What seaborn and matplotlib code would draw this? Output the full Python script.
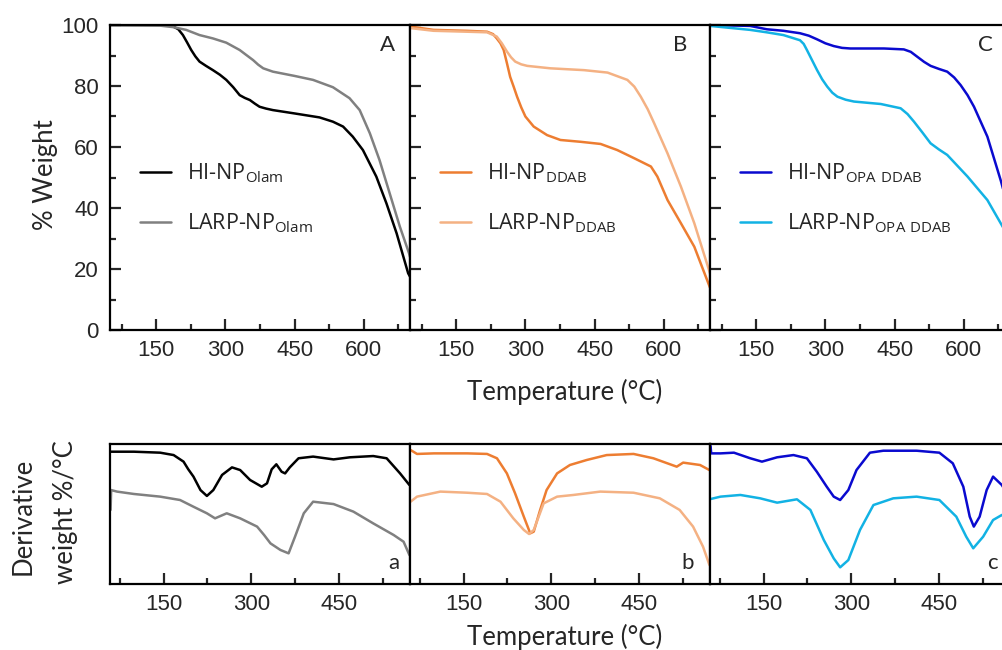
import numpy as np
import pandas as pd
import matplotlib
matplotlib.use("Agg")
import matplotlib.pyplot as plt
from matplotlib.ticker import MultipleLocator, NullLocator
import seaborn as sns

# ---------------- TGA (% weight) data ----------------
# panel A : Olam
tA_hi = [50, 172, 187, 198, 208, 217, 226, 235, 244, 258, 273, 288, 302, 317, 331, 342, 353, 364, 374, 388, 403, 450, 504, 533, 555, 576, 598, 627, 649, 671, 696, 700]
wA_hi = [100, 100, 99.5, 98.6, 96.7, 94.3, 91.8, 89.7, 88, 86.6, 85.2, 83.7, 82, 79.6, 77, 76.1, 75.4, 74.2, 73.2, 72.6, 72.1, 71, 69.7, 68.3, 66.7, 63.4, 59, 50.3, 41.5, 31.7, 18.6, 17.5]
tA_larp = [50, 158, 187, 215, 244, 273, 302, 331, 345, 360, 371, 382, 403, 450, 490, 533, 569, 591, 613, 634, 656, 678, 698, 700]
wA_larp = [100, 99.8, 99.3, 98.4, 96.7, 95.6, 94.2, 91.8, 90.2, 88.5, 87, 85.8, 84.7, 83.3, 82, 79.6, 76, 72.1, 64.5, 55.7, 44.8, 33.9, 25.1, 24]

# panel B : DDAB
tB_hi = [50, 101, 173, 217, 230, 238, 246, 253, 260, 267, 275, 282, 291, 300, 318, 347, 376, 420, 463, 499, 536, 572, 586, 608, 637, 666, 700]
wB_hi = [99.5, 98.4, 98.1, 97.8, 97, 95.6, 94, 91.8, 87.5, 83, 79.6, 76.5, 73, 70, 66.7, 63.9, 62.3, 61.7, 61, 59, 56.3, 53.6, 50.3, 42.6, 35, 27.3, 13.9]
tB_larp = [50, 101, 173, 217, 238, 249, 260, 269, 278, 291, 304, 354, 427, 478, 521, 536, 550, 565, 579, 608, 637, 666, 700]
wB_larp = [99, 98.1, 97.8, 97.6, 96.2, 94, 91.3, 89.4, 88, 87.1, 86.6, 85.8, 85.2, 84.4, 82, 79.8, 76.5, 72.4, 67.8, 57.9, 47, 35, 18.6]

# panel C : OPA DDAB
tC_hi = [50, 137, 173, 209, 245, 264, 282, 300, 318, 336, 354, 427, 470, 485, 499, 514, 528, 546, 564, 579, 593, 608, 622, 651, 680, 700]
wC_hi = [100, 99.7, 98.6, 98.1, 97.3, 96.5, 95.3, 94, 93.1, 92.5, 92.3, 92.3, 92, 91.2, 89.6, 87.9, 86.6, 85.6, 84.7, 82.8, 80.3, 77, 73.2, 63.4, 49, 38]
tC_larp = [50, 137, 173, 209, 245, 253, 260, 271, 282, 293, 304, 315, 326, 344, 362, 420, 463, 478, 492, 510, 528, 546, 564, 608, 651, 684, 700]
wC_larp = [99.7, 98.4, 97.6, 96.7, 95, 93.8, 91.8, 88.5, 85.2, 82.2, 79.8, 77.8, 76.5, 75.5, 74.9, 74.1, 72.7, 70.8, 68.3, 64.8, 61.2, 59.2, 57.4, 50.3, 42.6, 33.9, 30]

# ---------------- DTG (derivative weight, arbitrary units) ----------------
ta_hi = [59, 99, 144, 167, 184, 192, 201, 213, 224, 235, 250, 267, 281, 298, 318, 327, 335, 343, 352, 358, 366, 381, 406, 441, 469, 509, 532, 555, 571]
da_hi = [94.5, 94.5, 93.8, 92.1, 87.4, 82, 76.7, 67.1, 62.9, 67.1, 77.9, 83.3, 81.4, 74.3, 69.5, 71.9, 81.9, 85.5, 80.2, 79, 83.3, 89.8, 91, 89, 90.5, 91.4, 89.8, 79, 70.7]
ta_larp = [59, 60, 70, 99, 144, 178, 201, 224, 238, 258, 281, 310, 322, 333, 350, 364, 375, 390, 406, 441, 475, 509, 544, 561, 571]
da_larp = [52.9, 67.1, 66, 64.3, 62.4, 60, 55.2, 50.5, 46.9, 50.5, 46.9, 41, 35, 29, 24.3, 21.9, 33.8, 50.5, 58.8, 57.1, 51.7, 43.3, 35, 30.2, 20.7]

tb_hi = [59, 70, 99, 156, 190, 207, 224, 238, 253, 264, 270, 281, 292, 310, 332, 361, 395, 441, 475, 515, 526, 555, 571]
db_hi = [95.7, 92.9, 93.3, 93.3, 92.9, 89.8, 79, 64.8, 48.1, 36.2, 37.4, 52.9, 67.1, 79, 85, 88.6, 92.1, 92.9, 89.8, 83.8, 86.7, 85, 81.4]
tb_larp = [59, 70, 110, 156, 190, 213, 235, 253, 262, 270, 287, 310, 338, 384, 441, 486, 520, 543, 560, 571]
db_larp = [58.8, 62.4, 66, 65.2, 64.3, 58.8, 46.9, 38.6, 35.7, 38.6, 57.6, 62.4, 63.6, 66, 65.2, 61.2, 52.9, 41, 26.7, 13.6]

tc_hi = [59, 60, 76, 99, 127, 147, 173, 201, 224, 241, 258, 270, 281, 295, 309, 332, 355, 412, 451, 474, 492, 503, 510, 520, 532, 543, 558, 571]
dc_hi = [98.6, 93.3, 93.3, 93.8, 89.8, 87.4, 90.5, 92.1, 89.8, 80.2, 69.5, 62.4, 60, 67.1, 81.4, 93.8, 95.2, 95.2, 93.8, 86.2, 69.5, 48.1, 41, 48.1, 67.1, 76.7, 70.7, 62]
tc_larp = [59, 76, 110, 144, 173, 207, 230, 253, 270, 281, 295, 315, 338, 372, 412, 451, 480, 497, 509, 526, 543, 558, 571]
dc_larp = [60.7, 62.4, 63.6, 61.2, 58.1, 60.5, 52.9, 31.4, 18.3, 11.9, 17.1, 38.6, 56.4, 61.2, 62.4, 60, 48.1, 33.8, 25.5, 33.8, 45.7, 49.3, 47]

hi_names = ["Olam", "DDAB", "OPA\\ DDAB"]
letters_top = ["A", "B", "C"]
letters_bot = ["a", "b", "c"]
hi_colors = ["#000000", "#ED7D31", "#0A0ACF"]
larp_colors = ["#808080", "#F4B183", "#12B2E4"]

sns.set_style("ticks")
plt.rcParams["font.family"] = ["Liberation Sans", "DejaVu Sans"]
plt.rcParams["mathtext.fontset"] = "custom"
plt.rcParams["mathtext.rm"] = "Open Sans"
plt.rcParams["axes.linewidth"] = 1.6
plt.rcParams["axes.edgecolor"] = "black"

W, H = 1002, 650
fig = plt.figure(figsize=(W / 100, H / 100), dpi=100)

tga = [(tA_hi, wA_hi, tA_larp, wA_larp),
       (tB_hi, wB_hi, tB_larp, wB_larp),
       (tC_hi, wC_hi, tC_larp, wC_larp)]
dtg = [(ta_hi, da_hi, ta_larp, da_larp),
       (tb_hi, db_hi, tb_larp, db_larp),
       (tc_hi, dc_hi, tc_larp, dc_larp)]

lefts = [110, 410, 710]
top_letter_x = [0.925, 0.9, 0.917]
bot_letter_x = [0.947, 0.927, 0.94]
tick_font = ["Liberation Sans", "DejaVu Sans"]

for i in range(3):
    # ---- top TGA panel ----
    ax = fig.add_axes([lefts[i] / W, (H - 330) / H, 300 / W, 305 / H])
    th, wh, tl, wl = tga[i]
    sns.lineplot(x=th, y=wh, ax=ax, color=hi_colors[i], lw=1.8, sort=False,
                 estimator=None, label=r"HI-NP$_{\mathrm{%s}}$" % hi_names[i])
    sns.lineplot(x=tl, y=wl, ax=ax, color=larp_colors[i], lw=1.8, sort=False,
                 estimator=None, label=r"LARP-NP$_{\mathrm{%s}}$" % hi_names[i])
    ax.set_xlim(50, 700)
    ax.set_ylim(0, 100)
    ax.xaxis.set_major_locator(MultipleLocator(150))
    ax.xaxis.set_minor_locator(MultipleLocator(75))
    ax.yaxis.set_major_locator(MultipleLocator(20))
    ax.yaxis.set_minor_locator(MultipleLocator(10))
    ax.tick_params(which="both", direction="in", width=1.6, top=False, right=False)
    ax.tick_params(which="major", length=8)
    ax.tick_params(which="minor", length=4.5)
    ax.tick_params(axis="x", labelsize=16, pad=7)
    ax.tick_params(axis="y", labelsize=16, pad=8, labelleft=(i == 0))
    for t in ax.get_xticklabels() + ax.get_yticklabels():
        t.set_family(tick_font)
    ax.set_xlabel("")
    ax.set_ylabel("")
    ax.text(top_letter_x[i], 0.935, letters_top[i], transform=ax.transAxes,
            fontsize=16, family=["Lato", "DejaVu Sans"], ha="center", va="center")
    leg = ax.legend(loc="upper left", bbox_to_anchor=(0.035, 0.615), frameon=False,
                    fontsize=15.5, handlelength=1.45, handletextpad=0.75, labelspacing=1.2)
    for t in leg.get_texts():
        t.set_family(["Open Sans", "DejaVu Sans"])

    # ---- bottom DTG panel ----
    bx = fig.add_axes([lefts[i] / W, (H - 584) / H, 300 / W, 140 / H])
    th, dh, tl, dl = dtg[i]
    sns.lineplot(x=th, y=dh, ax=bx, color=hi_colors[i], lw=1.8, sort=False, estimator=None)
    sns.lineplot(x=tl, y=dl, ax=bx, color=larp_colors[i], lw=1.8, sort=False, estimator=None)
    bx.set_xlim(58, 572)
    bx.set_ylim(0, 100)
    bx.xaxis.set_major_locator(MultipleLocator(150))
    bx.xaxis.set_minor_locator(MultipleLocator(75))
    bx.yaxis.set_major_locator(NullLocator())
    bx.yaxis.set_minor_locator(NullLocator())
    bx.tick_params(which="both", direction="in", width=1.6, top=False, right=False, left=False)
    bx.tick_params(which="major", length=8)
    bx.tick_params(which="minor", length=4.5)
    bx.tick_params(axis="x", labelsize=16, pad=7)
    for t in bx.get_xticklabels():
        t.set_family(tick_font)
    bx.set_xlabel("")
    bx.set_ylabel("")
    bx.text(bot_letter_x[i], 0.15, letters_bot[i], transform=bx.transAxes,
            fontsize=16, family=["Lato", "DejaVu Sans"], ha="center", va="center")

lab = dict(family=["Lato", "DejaVu Sans"], fontsize=18.5)
fig.text(45 / W, 1 - 175 / H, "% Weight", rotation=90, ha="center", va="center", **lab)
fig.text(565 / W, 1 - 392 / H, "Temperature (°C)", ha="center", va="center", **lab)
fig.text(565 / W, 1 - 637 / H, "Temperature (°C)", ha="center", va="center", **lab)
fig.text(23 / W, 1 - 516 / H, "Derivative", rotation=90, ha="center", va="center", **lab)
fig.text(65 / W, 1 - 512 / H, "weight %/°C", rotation=90, ha="center", va="center", **lab)

fig.savefig("out.png", dpi=100)
